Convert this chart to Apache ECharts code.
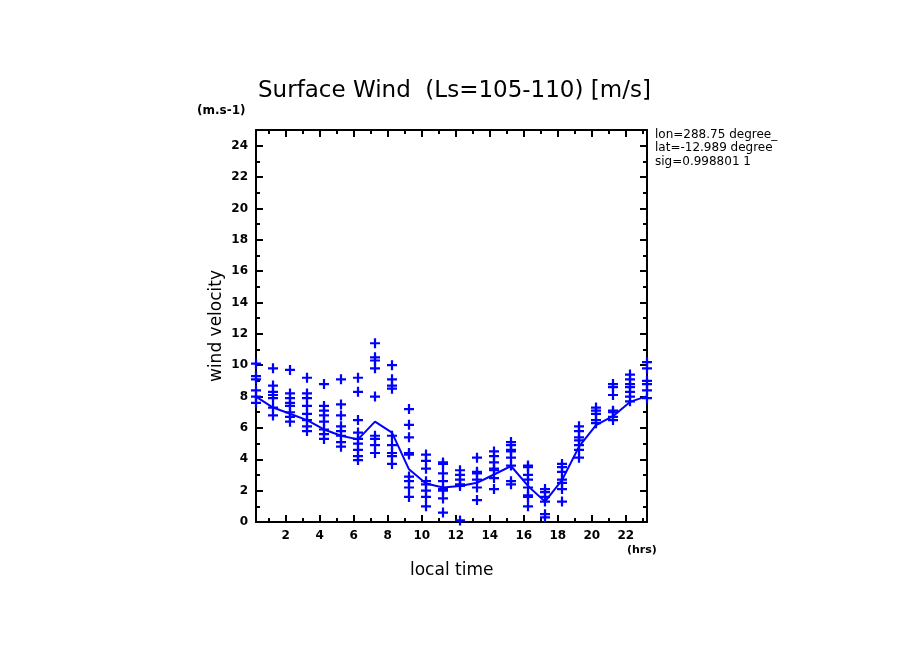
<!DOCTYPE html>
<html>
<head>
<meta charset="utf-8">
<script src="https://cdn.jsdelivr.net/npm/echarts@6/dist/echarts.min.js"></script>
<style>
  html, body { margin: 0; padding: 0; background: #fff; }
  #main { width: 904px; height: 654px; }
</style>
</head>
<body>
<div id="main"></div>
<script>
// local time of each sample column (hrs)
var hours = [0.25, 1.25, 2.25, 3.25, 4.25, 5.25, 6.25, 7.25, 8.25, 9.25, 10.25, 11.25,
             12.25, 13.25, 14.25, 15.25, 16.25, 17.25, 18.25, 19.25, 20.25, 21.25, 22.25, 23.25];

// individual wind samples per column (m/s)
var windSamples = [
  [10.1, 9.3, 9.1, 8.4, 8.0, 7.6],
  [9.8, 8.7, 8.3, 8.1, 7.9, 7.3, 6.8],
  [9.7, 8.2, 7.9, 7.6, 7.4, 7.0, 6.7, 6.4],
  [9.2, 8.2, 7.9, 7.4, 6.9, 6.5, 6.1, 5.8],
  [8.8, 7.4, 7.1, 6.8, 6.4, 5.9, 5.6, 5.3],
  [9.1, 7.5, 6.8, 6.1, 5.8, 5.5, 5.1, 4.8],
  [9.2, 8.3, 6.5, 5.7, 5.3, 5.0, 4.6, 4.2, 3.95],
  [11.4, 10.5, 10.3, 9.8, 8.0, 5.5, 5.3, 4.9, 4.4],
  [10.0, 9.1, 8.7, 8.5, 5.5, 4.9, 4.4, 4.2, 3.7],
  [7.2, 6.2, 5.4, 4.4, 4.3, 2.9, 2.6, 2.2, 1.6],
  [4.3, 3.9, 3.4, 2.6, 2.4, 2.0, 1.6, 1.0],
  [3.8, 3.7, 3.1, 2.6, 2.1, 2.0, 1.5, 0.6],
  [3.3, 3.0, 2.7, 2.4, 2.3, 0.1],
  [4.1, 3.2, 3.1, 2.7, 2.2, 1.4],
  [4.5, 4.2, 3.8, 3.4, 3.3, 2.8, 2.1],
  [5.1, 4.9, 4.6, 4.5, 4.1, 3.6, 2.6, 2.4],
  [3.6, 3.5, 3.0, 2.7, 2.2, 1.7, 1.6, 1.0],
  [2.1, 1.9, 1.6, 1.3, 0.5, 0.3],
  [3.7, 3.5, 3.2, 2.7, 2.5, 2.1, 1.3],
  [6.1, 5.8, 5.4, 5.2, 4.9, 4.6, 4.1],
  [7.3, 7.1, 6.9, 6.5, 6.3],
  [8.8, 8.6, 8.1, 7.1, 7.0, 6.7, 6.5],
  [9.4, 9.1, 8.8, 8.6, 8.3, 8.0, 7.7],
  [10.2, 9.8, 9.0, 8.8, 8.4, 7.9]
];

// mean wind per column (m/s)
var meanWind = [8.0, 7.3, 6.9, 6.5, 5.9, 5.5, 5.27, 6.4, 5.7, 3.36, 2.46, 2.2,
                2.3, 2.5, 3.03, 3.57, 2.3, 1.3, 2.67, 4.8, 6.18, 6.75, 7.66, 8.03];

var majorHours = [2, 4, 6, 8, 10, 12, 14, 16, 18, 20, 22];
var minorHours = [1, 3, 5, 7, 9, 11, 13, 15, 17, 19, 21, 23];
var majorWind = [0, 2, 4, 6, 8, 10, 12, 14, 16, 18, 20, 22, 24];
var minorWind = [1, 3, 5, 7, 9, 11, 13, 15, 17, 19, 21, 23];

var pointData = [];
hours.forEach(function(h, i) {
  windSamples[i].forEach(function(v) { pointData.push([h, v]); });
});
var lineData = hours.map(function(h, i) { return [h, meanWind[i]]; });

var BLUE = '#0000ff';
var PLUS = 'path://M3.5,0H5.5V3.5H9V5.5H5.5V9H3.5V5.5H0V3.5H3.5Z';
var labelFont = { color: '#000', fontFamily: 'DejaVu Sans', fontWeight: 'bold', fontSize: 12 };

function xAx(pos, ticks, len, showLine, showLabel) {
  return {
    type: 'value', position: pos, min: 0.25, max: 23.25,
    axisLine: { show: showLine, onZero: false, lineStyle: { color: '#000', width: 2 } },
    axisTick: { show: true, inside: true, length: len, customValues: ticks,
                lineStyle: { color: '#000', width: 2 } },
    axisLabel: Object.assign({ show: showLabel, customValues: majorHours, margin: 8 }, labelFont),
    splitLine: { show: false }
  };
}
function yAx(pos, ticks, len, showLine, showLabel) {
  return {
    type: 'value', position: pos, min: 0, max: 25,
    axisLine: { show: showLine, onZero: false, lineStyle: { color: '#000', width: 2 } },
    axisTick: { show: true, inside: true, length: len, customValues: ticks,
                lineStyle: { color: '#000', width: 2 } },
    axisLabel: Object.assign({ show: showLabel, customValues: majorWind, margin: 8 }, labelFont),
    splitLine: { show: false }
  };
}

var chart = echarts.init(document.getElementById('main'));
chart.setOption({
  backgroundColor: '#fff',
  animation: false,
  grid: { left: 256, right: 257, top: 130, bottom: 132 },
  xAxis: [
    xAx('bottom', majorHours, 7, true, true),
    xAx('bottom', minorHours, 4, false, false),
    xAx('top', majorHours, 7, true, false),
    xAx('top', minorHours, 4, false, false)
  ],
  yAxis: [
    yAx('left', majorWind, 7, true, true),
    yAx('left', minorWind, 4, false, false),
    yAx('right', majorWind, 7, true, false),
    yAx('right', minorWind, 4, false, false)
  ],
  graphic: [
    { type: 'text', left: 258, top: 80,
      style: { text: 'Surface Wind  (Ls=105-110) [m/s]', fontFamily: 'DejaVu Sans',
               fontSize: 23, fill: '#000' } },
    { type: 'text', left: 197, top: 105,
      style: { text: '(m.s-1)', fontFamily: 'DejaVu Sans', fontWeight: 'bold',
               fontSize: 12, fill: '#000' } },
    { type: 'text', left: 627, top: 545,
      style: { text: '(hrs)', fontFamily: 'DejaVu Sans', fontWeight: 'bold',
               fontSize: 11, fill: '#000' } },
    { type: 'text', left: 410, top: 562,
      style: { text: 'local time', fontFamily: 'DejaVu Sans', fontSize: 17, fill: '#000' } },
    { type: 'text', x: 217, y: 326, rotation: Math.PI / 2,
      style: { text: 'wind velocity', fontFamily: 'DejaVu Sans', fontSize: 17, fill: '#000',
               align: 'center', verticalAlign: 'middle' } },
    { type: 'text', left: 655, top: 128,
      style: { text: 'lon=288.75 degree_e\nlat=-12.989 degree_n\nsig=0.998801 1',
               fontFamily: 'DejaVu Sans', fontSize: 12, lineHeight: 13.5, fill: '#000',
               width: 124, overflow: 'truncate', ellipsis: '' } }
  ],
  series: [
    {
      type: 'scatter', xAxisIndex: 0, yAxisIndex: 0,
      symbol: PLUS, symbolSize: 10,
      itemStyle: { color: BLUE, opacity: 1 },
      data: pointData
    },
    {
      type: 'line', xAxisIndex: 0, yAxisIndex: 0,
      showSymbol: false,
      lineStyle: { color: BLUE, width: 2 },
      data: lineData
    }
  ]
});
</script>
</body>
</html>
